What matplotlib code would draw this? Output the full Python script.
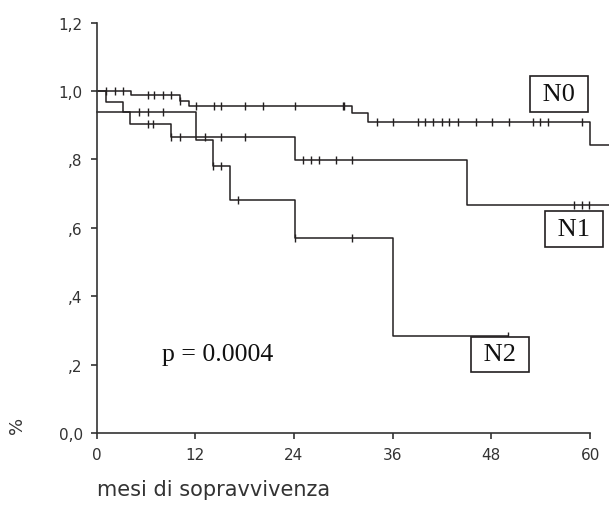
import matplotlib
matplotlib.use("Agg")
import matplotlib.pyplot as plt

# Kaplan-Meier curves (months, survival)
n0_t = [0, 4.2, 10.2, 11.2, 31.0, 33.0, 60.0, 63]
n0_s = [1.0, 0.988, 0.970, 0.957, 0.935, 0.908, 0.842, 0.842]
n0_cens_t = [1.2, 2.3, 3.2, 6.3, 7.0, 8.1, 9.1, 10.2, 12.1, 14.3, 15.1, 18.0, 20.2,
             24.1, 30.1, 30.0, 34.1, 36.1, 39.1, 39.9, 40.9, 42.0, 42.9, 43.9, 46.1,
             48.1, 50.1, 53.1, 53.9, 54.9, 59.0]

n1_t = [0, 1.2, 3.2, 4.1, 9.1, 24.1, 45.0, 63]
n1_s = [1.0, 0.967, 0.938, 0.904, 0.865, 0.798, 0.667, 0.667]
n1_cens_t = [6.3, 6.9, 9.1, 10.2, 13.2, 15.1, 18.1, 25.1, 26.1, 27.1, 29.1, 31.1,
             58.0, 59.0, 59.9]

n2_t = [0, 12.1, 14.2, 16.2, 24.1, 36.1, 50.0]
n2_s = [0.938, 0.858, 0.780, 0.682, 0.569, 0.283, 0.283]
n2_cens_t = [5.2, 6.3, 8.1, 14.2, 15.1, 17.2, 24.1, 31.1, 50.0]

y_ticks = [0.0, 0.2, 0.4, 0.6, 0.8, 1.0, 1.2]
y_labels = ["0,0", ",2", ",4", ",6", ",8", "1,0", "1,2"]
x_ticks = [0, 12, 24, 36, 48, 60]

curves = [("N0", n0_t, n0_s, n0_cens_t),
          ("N1", n1_t, n1_s, n1_cens_t),
          ("N2", n2_t, n2_s, n2_cens_t)]


def level_at(t, s, x):
    val = s[0]
    for ti, si in zip(t, s):
        if ti <= x:
            val = si
    return val


col = "#231f20"
grey = "#333333"
fig = plt.figure(figsize=(6.09, 5.06), dpi=100)
ax = fig.add_axes([0.1585, 0.1423, 0.8415, 0.8111])

for name, t, s, ct in curves:
    ax.step(t, s, where="post", color=col, lw=1.1, clip_on=False)
    cy = [level_at(t, s, x) for x in ct]
    ax.plot(ct, cy, ls="none", marker="|", ms=5.5, mew=1.0, color=col)

ax.set_xlim(0, 62.3)
ax.set_ylim(0, 1.2)
ax.spines["top"].set_visible(False)
ax.spines["right"].set_visible(False)
ax.spines["left"].set_bounds(0, 1.2)
ax.spines["bottom"].set_bounds(0, 60)
for sp in ("left", "bottom"):
    ax.spines[sp].set_color(grey)
    ax.spines[sp].set_linewidth(1.2)

ax.set_xticks(x_ticks)
ax.set_yticks(y_ticks)
ax.set_yticklabels(y_labels)
ax.tick_params(direction="out", length=4, width=1.2, color=grey,
               labelsize=11, labelcolor=grey, pad=6)


def px_x(px):
    return (px - 96.5) / 8.225


def px_y(py):
    return (434 - py) / 342


serif = "Liberation Serif"
box = dict(boxstyle="square,pad=0.25", fc="white", ec=col, lw=1.2)
for lab, cx, cy in [("N0", 559, 95), ("N1", 574, 230), ("N2", 500, 355.5)]:
    ax.text(px_x(cx), px_y(cy), " " + lab + " ", family=serif, fontsize=19,
            ha="center", va="center", bbox=box, color="#111111")
ax.text(px_x(217.5), px_y(355), "p = 0.0004", family=serif, fontsize=18.5,
        ha="center", va="center", color="#111111")

fig.text(97 / 609, 1 - 490 / 506, "mesi di sopravvivenza", fontsize=15,
         color=grey, ha="left", va="center")
fig.text(17 / 609, 1 - 425 / 506, "%", fontsize=13, color=grey,
         rotation=90, ha="center", va="center")

fig.savefig("out.png", dpi=100)
